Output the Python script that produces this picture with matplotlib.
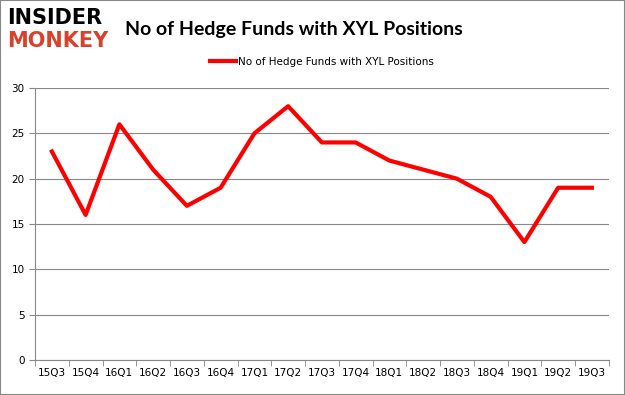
import matplotlib.pyplot as plt
import numpy as np

quarters = ['15Q3', '15Q4', '16Q1', '16Q2', '16Q3', '16Q4', '17Q1', '17Q2', '17Q3',
            '17Q4', '18Q1', '18Q2', '18Q3', '18Q4', '19Q1', '19Q2', '19Q3']
funds = [23, 16, 26, 21, 17, 19, 25, 28, 24, 24, 22, 21, 20, 18, 13, 19, 19]
series_name = 'No of Hedge Funds with XYL Positions'

fig = plt.figure(figsize=(6.25, 3.95), dpi=100)
ax = fig.add_axes([0.056, 0.089, 0.918, 0.688])

x = np.arange(len(quarters))
ax.plot(x, funds, color='#ff0000', linewidth=3, label=series_name)

ax.set_xlim(-0.5, len(quarters) - 0.5)
ax.set_ylim(0, 30)
ax.set_yticks(range(0, 31, 5))
ax.set_xticks(x)
ax.set_xticklabels(quarters)
ax.set_xticks(np.arange(-0.5, len(quarters)), minor=True)
ax.tick_params(axis='x', which='major', length=0, labelsize=7.5, pad=6)
ax.tick_params(axis='x', which='minor', length=4, color='#888888')
ax.tick_params(axis='y', length=4, color='#888888', labelsize=7.5)
ax.grid(axis='y', color='#888888', linewidth=0.8)
ax.set_axisbelow(True)
for side in ['top', 'right']:
    ax.spines[side].set_visible(False)
ax.spines['left'].set_color('#888888')
ax.spines['bottom'].set_color('#888888')

fig.text(0.2, 0.925, 'No of Hedge Funds with XYL Positions', fontsize=14,
         fontweight='bold', family='Lato', va='center', ha='left')
fig.text(0.012, 0.955, 'INSIDER', fontsize=15, fontweight='bold', color='black',
         va='center', ha='left')
fig.text(0.012, 0.895, 'MONKEY', fontsize=15, fontweight='bold', color='#d9412b',
         va='center', ha='left')

ax.legend(loc='center', bbox_to_anchor=(0.5, 1.096), frameon=False,
          fontsize=7.5, handlelength=2.5, handletextpad=0.2)

border = plt.Rectangle((0, 0), 1, 1, transform=fig.transFigure, fill=False,
                       edgecolor='#888888', linewidth=1.5)
fig.patches.append(border)

fig.savefig('out.png')
